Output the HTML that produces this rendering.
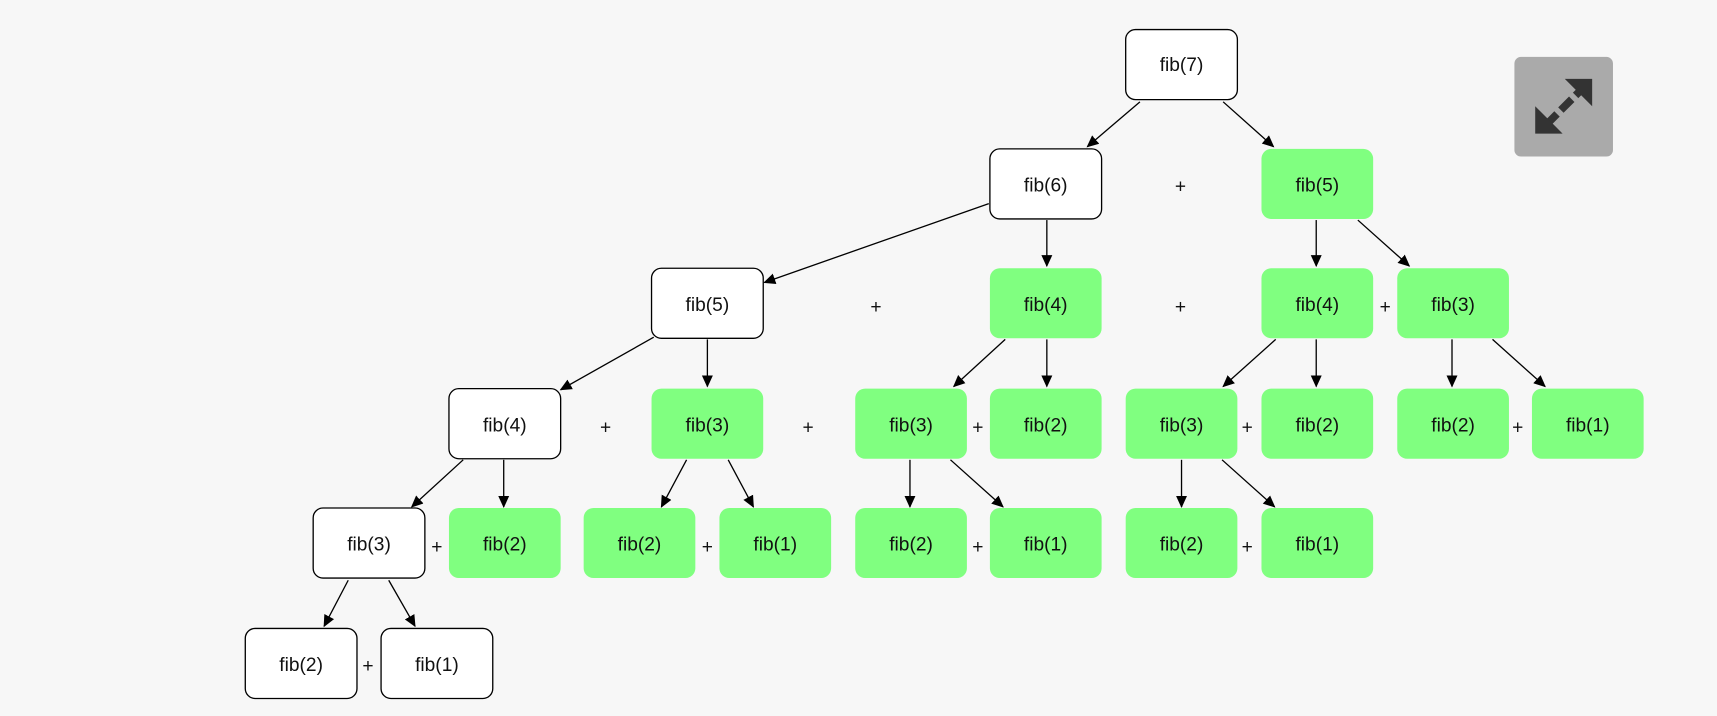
<!DOCTYPE html>
<html><head><style>
html,body{margin:0;padding:0;background:#f7f7f7;width:1717px;height:716px;overflow:hidden}
svg{display:block}
text{font-family:"Liberation Sans",sans-serif;font-size:17.5px;fill:#111}
</style></head><body>
<svg width="1717" height="716" viewBox="0 0 1568 654" preserveAspectRatio="none" xmlns="http://www.w3.org/2000/svg">
<defs><marker id="a" markerWidth="12" markerHeight="12" refX="10" refY="5.5" orient="auto" markerUnits="userSpaceOnUse"><path d="M0,0.5 L11,5.5 L0,10.5 z" fill="#000"/></marker></defs>
<rect width="1568" height="654" fill="#f7f7f7"/>
<g stroke="#000" stroke-width="1.2" marker-end="url(#a)">
<line x1="1041" y1="93" x2="993" y2="134"/>
<line x1="1117" y1="93" x2="1163" y2="134"/>
<line x1="903" y1="186" x2="698" y2="258"/>
<line x1="956" y1="201" x2="956" y2="243"/>
<line x1="1202" y1="201" x2="1202" y2="243"/>
<line x1="1240" y1="201" x2="1287" y2="243"/>
<line x1="597" y1="308" x2="512" y2="356"/>
<line x1="646" y1="310" x2="646" y2="353"/>
<line x1="918" y1="310" x2="871" y2="353"/>
<line x1="956" y1="310" x2="956" y2="353"/>
<line x1="1165" y1="310" x2="1117" y2="353"/>
<line x1="1202" y1="310" x2="1202" y2="353"/>
<line x1="1326" y1="310" x2="1326" y2="353"/>
<line x1="1363" y1="310" x2="1411" y2="353"/>
<line x1="423" y1="420" x2="376" y2="463"/>
<line x1="460" y1="420" x2="460" y2="463"/>
<line x1="627" y1="420" x2="604" y2="463"/>
<line x1="665" y1="420" x2="688" y2="463"/>
<line x1="831" y1="420" x2="831" y2="463"/>
<line x1="868" y1="420" x2="916" y2="463"/>
<line x1="1079" y1="420" x2="1079" y2="463"/>
<line x1="1116" y1="420" x2="1164" y2="463"/>
<line x1="318" y1="530" x2="296" y2="572"/>
<line x1="355" y1="530" x2="379" y2="572"/>
</g>
<g text-anchor="middle">
<g fill="#fff" stroke="#000" stroke-width="1.2">
<rect x="1028" y="27" width="102" height="64" rx="9"/>
<rect x="904" y="136" width="102" height="64" rx="9"/>
<rect x="595" y="245" width="102" height="64" rx="9"/>
<rect x="410" y="355" width="102" height="64" rx="9"/>
<rect x="286" y="464" width="102" height="64" rx="9"/>
<rect x="224" y="574" width="102" height="64" rx="9"/>
<rect x="348" y="574" width="102" height="64" rx="9"/>
</g>
<g fill="#80ff80">
<rect x="1152" y="136" width="102" height="64" rx="9"/>
<rect x="904" y="245" width="102" height="64" rx="9"/>
<rect x="1152" y="245" width="102" height="64" rx="9"/>
<rect x="1276" y="245" width="102" height="64" rx="9"/>
<rect x="595" y="355" width="102" height="64" rx="9"/>
<rect x="781" y="355" width="102" height="64" rx="9"/>
<rect x="904" y="355" width="102" height="64" rx="9"/>
<rect x="1028" y="355" width="102" height="64" rx="9"/>
<rect x="1152" y="355" width="102" height="64" rx="9"/>
<rect x="1276" y="355" width="102" height="64" rx="9"/>
<rect x="1399" y="355" width="102" height="64" rx="9"/>
<rect x="410" y="464" width="102" height="64" rx="9"/>
<rect x="533" y="464" width="102" height="64" rx="9"/>
<rect x="657" y="464" width="102" height="64" rx="9"/>
<rect x="781" y="464" width="102" height="64" rx="9"/>
<rect x="904" y="464" width="102" height="64" rx="9"/>
<rect x="1028" y="464" width="102" height="64" rx="9"/>
<rect x="1152" y="464" width="102" height="64" rx="9"/>
</g>
<text x="1079" y="65">fib(7)</text>
<text x="955" y="175">fib(6)</text><text x="1203" y="175">fib(5)</text>
<text x="646" y="284">fib(5)</text><text x="955" y="284">fib(4)</text><text x="1203" y="284">fib(4)</text><text x="1327" y="284">fib(3)</text>
<text x="461" y="394">fib(4)</text><text x="646" y="394">fib(3)</text><text x="832" y="394">fib(3)</text><text x="955" y="394">fib(2)</text><text x="1079" y="394">fib(3)</text><text x="1203" y="394">fib(2)</text><text x="1327" y="394">fib(2)</text><text x="1450" y="394">fib(1)</text>
<text x="337" y="503">fib(3)</text><text x="461" y="503">fib(2)</text><text x="584" y="503">fib(2)</text><text x="708" y="503">fib(1)</text><text x="832" y="503">fib(2)</text><text x="955" y="503">fib(1)</text><text x="1079" y="503">fib(2)</text><text x="1203" y="503">fib(1)</text>
<text x="275" y="613">fib(2)</text><text x="399" y="613">fib(1)</text>
<g>
<text x="1078" y="176">+</text>
<text x="800" y="286">+</text><text x="1078" y="286">+</text><text x="1265" y="286">+</text>
<text x="553" y="396">+</text><text x="738" y="396">+</text><text x="893" y="396">+</text><text x="1139" y="396">+</text><text x="1386" y="396">+</text>
<text x="399" y="505">+</text><text x="646" y="505">+</text><text x="893" y="505">+</text><text x="1139" y="505">+</text>
<text x="336" y="614">+</text>
</g>
</g>
<rect x="1383" y="52" width="90" height="91" rx="6" fill="#aaa"/>
<g fill="#333" stroke="#333">
<line x1="1412" y1="114" x2="1444" y2="82" stroke-width="7" stroke-dasharray="14 5"/>
<path d="M1429,72 L1454,72 L1454,97 z" stroke="none"/>
<path d="M1402,97 L1402,122 L1427,122 z" stroke="none"/>
</g>
</svg>
</body></html>
